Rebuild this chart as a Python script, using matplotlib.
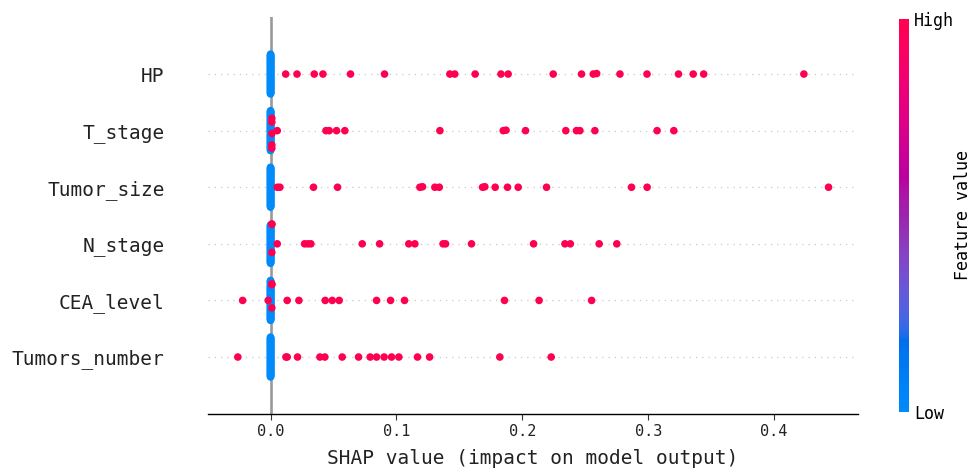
import numpy as np
import matplotlib
matplotlib.use("Agg")
import matplotlib.pyplot as plt
from matplotlib.colors import LinearSegmentedColormap
from matplotlib.cm import ScalarMappable

plt.rcParams['font.family'] = ['DejaVu Sans Mono']

# features, top to bottom
features = ['HP', 'T_stage', 'Tumor_size', 'N_stage', 'CEA_level', 'Tumors_number']
n_samples = 100

# SHAP values of the high feature value (red) points
hp_high = [0.012, 0.021, 0.0347, 0.0416, 0.0635, 0.0905, 0.1424, 0.1463, 0.1625, 0.183,
           0.1887, 0.2245, 0.247, 0.2563, 0.259, 0.2775, 0.299, 0.324, 0.3357, 0.344, 0.4236]
t_stage_high = [0.0053, 0.044, 0.0466, 0.0524, 0.059, 0.1345, 0.1848, 0.187, 0.2025,
                0.2345, 0.243, 0.2457, 0.2576, 0.307, 0.3203]
tumor_size_high = [0.0053, 0.0074, 0.0341, 0.0532, 0.1186, 0.1207, 0.1305, 0.134, 0.1684,
                   0.1702, 0.1784, 0.1882, 0.1967, 0.2192, 0.2867, 0.2991, 0.4432]
n_stage_high = [0.0053, 0.027, 0.0296, 0.032, 0.0728, 0.0866, 0.1098, 0.1146, 0.137,
                0.139, 0.1596, 0.2089, 0.2338, 0.2381, 0.261, 0.275]
cea_level_high = [-0.0222, -0.0019, 0.0132, 0.0225, 0.0434, 0.049, 0.0545, 0.0842, 0.0953,
                  0.1064, 0.1858, 0.2133, 0.255]
tumors_number_high = [-0.026, 0.0122, 0.0132, 0.0214, 0.0392, 0.0431, 0.0569, 0.0699, 0.0791,
                      0.0842, 0.0902, 0.0961, 0.1019, 0.1167, 0.1263, 0.1821, 0.2229]

# the rest of the samples sit in the column at 0 (mostly low = blue);
# these are the slots in that column that hold a red point just right of 0
near_zero = 0.001
hp_zero_red = []
t_stage_zero_red = [12, 35, 51, 60, 74]
tumor_size_zero_red = []
n_stage_zero_red = [36, 81, 83]
cea_level_zero_red = [32, 67, 71]
tumors_number_zero_red = []

high_lists = [hp_high, t_stage_high, tumor_size_high, n_stage_high, cea_level_high, tumors_number_high]
zero_red_lists = [hp_zero_red, t_stage_zero_red, tumor_size_zero_red, n_stage_zero_red,
                  cea_level_zero_red, tumors_number_zero_red]


def lch_to_rgb(l, c, h):
    a = c * np.cos(h)
    b = c * np.sin(h)
    fy = (l + 16) / 116
    fx = fy + a / 500
    fz = fy - b / 200

    def finv(t):
        return t ** 3 if t > 6 / 29 else 3 * (6 / 29) ** 2 * (t - 4 / 29)

    x = 0.95047 * finv(fx)
    y = finv(fy)
    z = 1.08883 * finv(fz)
    lin = [3.2406 * x - 1.5372 * y - 0.4986 * z,
           -0.9689 * x + 1.8758 * y + 0.0415 * z,
           0.0557 * x - 0.2040 * y + 1.0570 * z]
    out = []
    for v in lin:
        v = 12.92 * v if v <= 0.0031308 else 1.055 * v ** (1 / 2.4) - 0.055
        out.append(min(max(v, 0), 1))
    return out


# shap style red/blue colormap
blue_lch = [54., 70., 4.6588]
red_lch = [54., 90., 0.35470565 + 2 * np.pi]
l_mid = 40.
nsteps = 100
l_vals = list(np.linspace(blue_lch[0], l_mid, nsteps // 2)) + list(np.linspace(l_mid, red_lch[0], nsteps // 2))
c_vals = np.linspace(blue_lch[1], red_lch[1], nsteps)
h_vals = np.linspace(blue_lch[2], red_lch[2], nsteps)
cmap_colors = [lch_to_rgb(l, c, h) for l, c, h in zip(l_vals, c_vals, h_vals)]
red_blue = LinearSegmentedColormap.from_list('red_blue', cmap_colors)


def swarm_offsets(shaps, row_height=0.4):
    nbins = 100
    quant = np.round(nbins * (shaps - shaps.min()) / (shaps.max() - shaps.min() + 1e-8))
    inds = np.argsort(quant, kind='stable')
    layer = 0
    last_bin = -1
    ys = np.zeros(len(shaps))
    for ind in inds:
        if quant[ind] != last_bin:
            layer = 0
        ys[ind] = np.ceil(layer / 2) * ((layer % 2) * 2 - 1)
        layer += 1
        last_bin = quant[ind]
    ys *= 0.9 * (row_height / np.max(ys + 1))
    return ys


fig = plt.figure(figsize=(9.72, 4.72), dpi=100)
ax = fig.add_axes([0.2136, 0.1237, 0.669, 0.8393])

n_rows = len(features)
for i, (name, high, zero_red) in enumerate(zip(features, high_lists, zero_red_lists)):
    pos = n_rows - 1 - i
    n_zero = n_samples - len(high)
    zero_vals = np.zeros(n_zero)
    zero_feat = np.zeros(n_zero)
    zero_vals[zero_red] = near_zero
    zero_feat[zero_red] = 1
    vals = np.concatenate([zero_vals, high])
    feat = np.concatenate([zero_feat, np.ones(len(high))])
    ys = swarm_offsets(vals)
    order = np.argsort(feat, kind='stable')
    ax.axhline(y=pos, color='#c8c8c8', lw=0.9, dashes=(1, 4), zorder=-1)
    ax.scatter(vals[order], pos + ys[order], c=feat[order], cmap=red_blue, vmin=0, vmax=1,
               s=30, linewidth=0, zorder=3)

ax.axvline(x=0, color='#999999', lw=1.9, zorder=-1)

ax.set_xlim(-0.050, 0.4665)
ax.set_ylim(-1, n_rows)
ax.set_yticks(range(n_rows))
ax.set_yticklabels(features[::-1], fontsize=14)
ax.set_xticks([0.0, 0.1, 0.2, 0.3, 0.4])
ax.xaxis.set_ticks_position('bottom')
ax.yaxis.set_ticks_position('none')
ax.tick_params('y', length=0, pad=31, labelcolor='#222222')
ax.tick_params('x', labelsize=11, length=4.3, color='#333333', labelcolor='#222222')
for side in ['right', 'top', 'left']:
    ax.spines[side].set_visible(False)
ax.spines['bottom'].set_linewidth(1.0)
ax.set_xlabel('SHAP value (impact on model output)', fontsize=14, color='#222222', labelpad=7)

cax = fig.add_axes([0.925, 0.127, 0.0105, 0.833])
sm = ScalarMappable(cmap=red_blue)
sm.set_clim(0, 1)
cb = fig.colorbar(sm, cax=cax, ticks=[0, 1])
cb.set_ticklabels(['Low', 'High'])
cb.ax.tick_params(labelsize=12, length=0)
cb.set_label('Feature value', size=12, labelpad=0)
cb.outline.set_visible(False)

fig.savefig('out.png', dpi=100)
